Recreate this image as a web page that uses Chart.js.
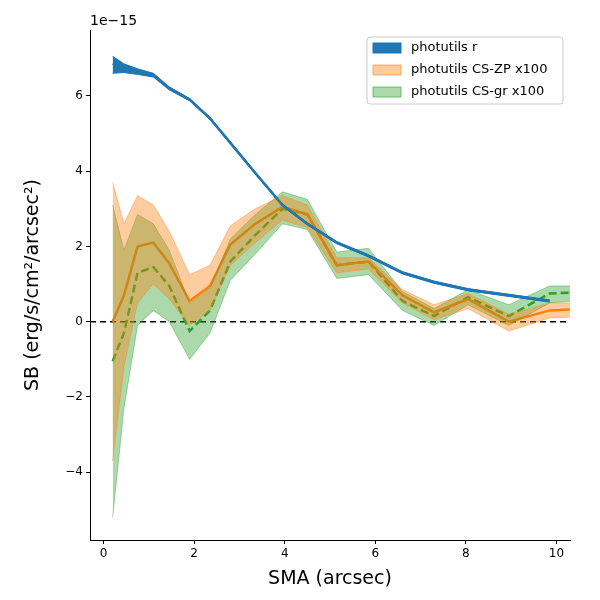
<!DOCTYPE html><html><head><script src="https://cdn.jsdelivr.net/npm/chart.js@4"></script>
<style>body{margin:0;background:#fff}</style></head><body>
<div style="width:600px;height:600px"><canvas id="c"></canvas></div>
<script>
const xs=[0.2,0.45,0.75,1.1,1.45,1.9,2.35,2.8,3.35,3.95,4.5,5.15,5.85,6.6,7.3,8.05,8.95,9.85,10.9];
const blue=[6.85,6.75,6.65,6.55,6.2,5.9,5.4,4.75,3.95,3.1,2.6,2.1,1.75,1.3,1.05,0.85,0.7,0.55];
const blueHi=[7.05,6.85,6.72,6.6,6.24,5.93,5.43,4.78,3.98,3.13,2.63,2.13,1.78,1.33,1.08,0.88,0.73,0.58];
const blueLo=[6.6,6.62,6.57,6.5,6.16,5.87,5.37,4.72,3.92,3.07,2.57,2.07,1.72,1.27,1.02,0.82,0.67,0.52];
const orange=[0,0.7,2.0,2.1,1.55,0.55,0.95,2.05,2.6,3.05,2.85,1.5,1.6,0.7,0.25,0.6,0,0.3,0.35];
const orangeHi=[3.7,2.6,3.35,3.1,2.4,1.25,1.5,2.55,3.0,3.35,3.1,1.7,1.7,0.85,0.45,0.75,0.2,0.5,0.5];
const orangeLo=[-3.7,-1.2,0.5,1.0,0.6,-0.1,0.3,1.5,2.1,2.7,2.5,1.3,1.4,0.5,0.05,0.35,-0.25,0.1,0.15];
const green=[-1.05,-0.3,1.3,1.45,0.95,-0.25,0.3,1.6,2.3,3.0,2.85,1.5,1.6,0.55,0.15,0.65,0.15,0.75,0.8];
const greenHi=[3.1,1.9,2.85,2.6,1.9,0.5,0.9,2.2,2.85,3.45,3.25,1.85,1.95,0.8,0.35,0.85,0.45,0.95,0.95];
const greenLo=[-5.2,-2.3,-0.1,0.3,0,-1.0,-0.3,1.1,1.8,2.6,2.45,1.15,1.25,0.3,-0.1,0.45,-0.1,0.5,0.6];
const xTicks=[0,2,4,6,8,10], yTicks=[-4,-2,0,2,4,6];
const pts=a=>a.map((v,i)=>({x:xs[i],y:v}));
const band=(a,c,f)=>({data:pts(a),borderColor:c,backgroundColor:f,borderWidth:1,pointRadius:0,tension:0});
const legendItems=[['photutils r','#1f77b4','#1f77b4'],['photutils CS-ZP x100','rgba(255,127,14,0.4)','rgba(255,127,14,0.6)'],['photutils CS-gr x100','rgba(44,160,44,0.4)','rgba(44,160,44,0.6)']];
const plug={id:'p',afterDraw(ch){const g=ch.ctx,a=ch.chartArea;g.save();
g.font='14px "DejaVu Sans"';g.fillStyle='#000';g.textBaseline='bottom';g.fillText('1e\u221215',a.left,a.top-2);
const lx=367,ly=37,w=196,h=67;g.fillStyle='rgba(255,255,255,0.8)';g.strokeStyle='#ccc';g.lineWidth=1;
g.beginPath();g.roundRect(lx,ly,w,h,3);g.fill();g.stroke();
g.font='13px "DejaVu Sans"';g.textBaseline='middle';
legendItems.forEach((it,i)=>{const y=ly+11+i*22;g.fillStyle=it[1];g.fillRect(lx+6,y-5,28,10);g.strokeStyle=it[2];g.strokeRect(lx+6,y-5,28,10);g.fillStyle='#000';g.fillText(it[0],lx+44,y);});
g.restore();}};
new Chart(document.getElementById('c'),{type:'line',data:{datasets:[
{...band(blueHi,'#1f77b4','#1f77b4'),fill:'+1'},band(blueLo,'#1f77b4','#1f77b4'),
{...band(orangeHi,'rgba(255,127,14,0.4)','rgba(255,127,14,0.4)'),fill:'+1'},band(orangeLo,'rgba(255,127,14,0.4)','rgba(255,127,14,0.4)'),
{...band(greenHi,'rgba(44,160,44,0.4)','rgba(44,160,44,0.4)'),fill:'+1'},band(greenLo,'rgba(44,160,44,0.4)','rgba(44,160,44,0.4)'),
{data:pts(blue),borderColor:'#1f77b4',borderWidth:2.5,pointRadius:0,fill:false},
{data:pts(orange),borderColor:'#ff7f0e',borderWidth:2.5,pointRadius:0,fill:false},
{data:pts(green),borderColor:'#2ca02c',borderWidth:2.5,borderDash:[8,4],pointRadius:0,fill:false},
{data:[{x:-0.3,y:0},{x:10.3,y:0}],borderColor:'#000',borderWidth:1.5,borderDash:[6,4],pointRadius:0,fill:false}
]},options:{animation:false,responsive:true,maintainAspectRatio:false,
layout:{padding:{top:30,right:30,left:22,bottom:6}},
plugins:{legend:{display:false},tooltip:{enabled:false}},
scales:{x:{type:'linear',min:-0.3,max:10.3,afterBuildTicks:s=>{s.ticks=xTicks.map(v=>({value:v}))},
afterFit:s=>{s.height=54},
grid:{drawOnChartArea:false,tickLength:4,color:'#000'},border:{color:'#000'},
ticks:{color:'#000',font:{size:12,family:'DejaVu Sans'},maxRotation:0},
title:{display:true,text:'SMA (arcsec)',color:'#000',font:{size:19,family:'DejaVu Sans'},padding:{top:0}}},
y:{min:-5.8,max:7.75,afterBuildTicks:s=>{s.ticks=yTicks.map(v=>({value:v}))},afterFit:s=>{s.width=68},
grid:{drawOnChartArea:false,tickLength:4,color:'#000'},border:{color:'#000'},
ticks:{color:'#000',font:{size:12,family:'DejaVu Sans'},callback:v=>String(v).replace('-','\u2212')},
title:{display:true,text:'SB (erg/s/cm\u00b2/arcsec\u00b2)',color:'#000',font:{size:19,family:'DejaVu Sans'},padding:0}}}},
plugins:[plug]});
</script></body></html>
